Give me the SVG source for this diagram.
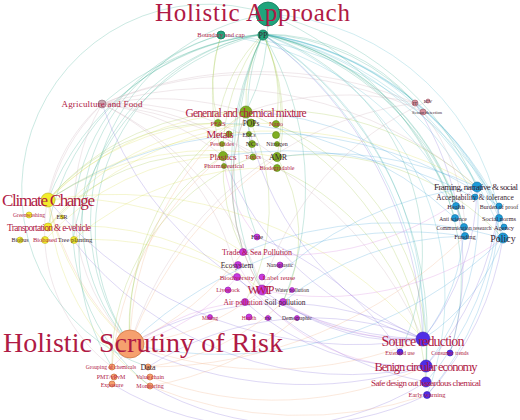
<svg xmlns="http://www.w3.org/2000/svg" width="520" height="420" viewBox="0 0 520 420">
<style>
text{font-family:"Liberation Serif","DejaVu Serif",serif;fill:#b01a45;text-anchor:middle}
.dk{fill:#3a2431}
.big{text-anchor:start}
path{fill:none;stroke-width:0.7;stroke-opacity:0.36}
.eg{stroke:#2fa88a}.et{stroke:#45b2c6}.eo{stroke:#9cc23a}.ey{stroke:#d6da48}.ea{stroke:#c4a2b0}
.eb{stroke:#3a9fd8}.ep{stroke:#7a62d6}.em{stroke:#d276dc}.er{stroke:#f0a878}
.ng{fill:#1fa47c;stroke:#137a5a;stroke-width:0.8}
.no{fill:#7fae1f;stroke:#5d8515;stroke-width:0.6}
.ny{fill:#f2ec2c;stroke:#b9b020;stroke-width:0.6}
.na{fill:#c9a6b0;stroke:#8a6a75;stroke-width:0.6}
.nb{fill:#1d9bd9;stroke:#1470a0;stroke-width:0.6}
.np{fill:#4f2ee6;stroke:#3519b0;stroke-width:0.6}
.nm{fill:#c93ae0;stroke:#9020a8;stroke-width:0.6}
.nr{fill:#f6a06e;stroke:#c8703d;stroke-width:0.7}
.nt{fill:#d4909c;stroke:#a05a68;stroke-width:0.6}
</style>
<g id="connectors">
<path class="et" d="M263 34 A280 280 0 0 1 477 187"/>
<path class="et" d="M263 34 A300 300 0 0 1 474 197"/>
<path class="eg" d="M263 34 A260 260 0 0 1 456 206"/>
<path class="et" d="M263 34 A320 320 0 0 1 499 206"/>
<path class="et" d="M263 34 A300 300 0 0 1 499 218"/>
<path class="eg" d="M263 34 A280 280 0 0 1 464 227"/>
<path class="et" d="M263 34 A300 300 0 0 1 504 227"/>
<path class="et" d="M263 34 A320 320 0 0 1 503 238"/>
<path class="eg" d="M263 34 A260 260 0 0 1 465 236"/>
<path class="et" d="M263 34 A340 340 0 0 1 423 339"/>
<path class="eg" d="M263 34 A360 360 0 0 1 426 366"/>
<path class="et" d="M263 34 A400 400 0 0 1 426 382"/>
<path class="eg" d="M263 34 A200 200 0 0 1 415 103"/>
<path class="eg" d="M263 34 A220 220 0 0 1 423 112"/>
<path class="eg" d="M268 14 A300 300 0 0 1 477 187"/>
<path class="et" d="M268 14 A250 250 0 0 1 503 238"/>
<path class="eg" d="M268 14 A330 330 0 0 1 455 218"/>
<path class="et" d="M221 35 A300 300 0 0 1 464 227"/>
<path class="et" d="M221 35 A350 350 0 0 1 499 206"/>
<path class="eg" d="M263 34 A250 250 0 0 1 450 353"/>
<path class="eg" d="M263 34 A230 230 0 0 1 400 352"/>
<path class="et" d="M263 34 A280 280 0 0 1 427 395"/>
<path class="eo" d="M263 34 A150 150 0 0 0 246 112"/>
<path class="eo" d="M263 34 A150 150 0 0 0 218 123"/>
<path class="eo" d="M263 34 A150 150 0 0 1 276 124"/>
<path class="eo" d="M263 34 A200 200 0 0 0 223 156"/>
<path class="eo" d="M263 34 A200 200 0 0 1 277 157"/>
<path class="eo" d="M263 34 A200 200 0 0 1 277 168"/>
<path class="eg" d="M263 34 A200 200 0 0 0 253 157"/>
<path class="eg" d="M263 34 A250 250 0 0 0 257 237"/>
<path class="eg" d="M263 34 A300 300 0 0 0 262 290"/>
<path class="eg" d="M263 34 A300 300 0 0 0 243 252"/>
<path class="eg" d="M263 34 A300 300 0 0 1 283 302"/>
<path class="eo" d="M221 35 A150 150 0 0 0 218 123"/>
<path class="eo" d="M221 35 A200 200 0 0 0 223 156"/>
<path class="eg" d="M268 14 A200 200 0 0 1 246 112"/>
<path class="eg" d="M263 34 A260 260 0 0 0 48 200"/>
<path class="eg" d="M263 34 A240 240 0 0 0 48 227"/>
<path class="eg" d="M263 34 A250 250 0 0 0 73 240"/>
<path class="eg" d="M263 34 A200 200 0 0 0 130 344"/>
<path class="eg" d="M263 34 A220 220 0 0 0 112 367"/>
<path class="eg" d="M268 14 A210 210 0 0 0 130 344"/>
<path class="eg" d="M221 35 A190 190 0 0 0 130 344"/>
<path class="eg" d="M221 35 A200 200 0 0 0 150 386"/>
<path class="eg" d="M263 34 A300 300 0 0 0 102 104"/>
<path class="eg" d="M268 14 A185 185 0 0 0 148 367"/>
<path class="eo" d="M246 112 A250 250 0 0 0 48 200"/>
<path class="eo" d="M218 123 A220 220 0 0 0 48 200"/>
<path class="eo" d="M223 156 A200 200 0 0 0 48 227"/>
<path class="eo" d="M246 112 A260 260 0 0 0 130 344"/>
<path class="eo" d="M223 156 A200 200 0 0 0 130 344"/>
<path class="eo" d="M246 112 A300 300 0 0 1 477 187"/>
<path class="eo" d="M277 157 A260 260 0 0 1 503 238"/>
<path class="eo" d="M246 112 A300 300 0 0 1 423 339"/>
<path class="eo" d="M276 124 A250 250 0 0 1 426 366"/>
<path class="eo" d="M246 112 A200 200 0 0 0 262 290"/>
<path class="eo" d="M223 156 A200 200 0 0 0 243 252"/>
<path class="eo" d="M277 157 A150 150 0 0 1 283 302"/>
<path class="eo" d="M251 123 A200 200 0 0 1 245 302"/>
<path class="eo" d="M253 157 A220 220 0 0 0 112 367"/>
<path class="eo" d="M277 168 A250 250 0 0 1 426 382"/>
<path class="ey" d="M48 200 A300 300 0 0 1 246 112"/>
<path class="ey" d="M48 200 A260 260 0 0 0 130 344"/>
<path class="ey" d="M48 200 A300 300 0 0 1 243 252"/>
<path class="ey" d="M48 227 A300 300 0 0 1 262 290"/>
<path class="ey" d="M48 200 A400 400 0 0 1 423 339"/>
<path class="ey" d="M73 240 A300 300 0 0 1 237 277"/>
<path class="ey" d="M48 200 A250 250 0 0 1 218 123"/>
<path class="ey" d="M45 240 A250 250 0 0 1 223 156"/>
<path class="ey" d="M48 227 A260 260 0 0 1 276 124"/>
<path class="ey" d="M48 200 A300 300 0 0 1 277 157"/>
<path class="ey" d="M48 227 A350 350 0 0 1 251 123"/>
<path class="ey" d="M73 240 A300 300 0 0 1 277 168"/>
<path class="ey" d="M48 200 A250 250 0 0 0 150 386"/>
<path class="ey" d="M48 200 A400 400 0 0 1 477 187"/>
<path class="ea" d="M102 104 A300 300 0 0 1 246 112"/>
<path class="ea" d="M102 104 A250 250 0 0 1 223 156"/>
<path class="ea" d="M102 104 A260 260 0 0 1 277 157"/>
<path class="ea" d="M102 104 A400 400 0 0 1 415 103"/>
<path class="ea" d="M102 104 A400 400 0 0 1 423 112"/>
<path class="ea" d="M102 104 A300 300 0 0 1 262 290"/>
<path class="ea" d="M102 104 A250 250 0 0 1 237 277"/>
<path class="ea" d="M102 104 A200 200 0 0 0 130 344"/>
<path class="ea" d="M102 104 A170 170 0 0 0 112 367"/>
<path class="ea" d="M102 104 A200 200 0 0 0 48 200"/>
<path class="ea" d="M102 104 A400 400 0 0 1 423 339"/>
<path class="ea" d="M102 104 A400 400 0 0 1 477 187"/>
<path class="ea" d="M102 104 A250 250 0 0 1 253 157"/>
<path class="eb" d="M503 238 A200 200 0 0 1 423 339"/>
<path class="eb" d="M477 187 A250 250 0 0 1 426 366"/>
<path class="eb" d="M499 206 A300 300 0 0 1 426 382"/>
<path class="eb" d="M464 227 A200 200 0 0 1 423 339"/>
<path class="eb" d="M456 206 A300 300 0 0 0 246 112"/>
<path class="eb" d="M477 187 A350 350 0 0 0 262 290"/>
<path class="eb" d="M503 238 A400 400 0 0 0 243 252"/>
<path class="eb" d="M465 236 A400 400 0 0 0 130 344"/>
<path class="eb" d="M474 197 A400 400 0 0 0 223 156"/>
<path class="eb" d="M503 238 A400 400 0 0 1 130 344"/>
<path class="eb" d="M455 218 A350 350 0 0 0 218 123"/>
<path class="eb" d="M499 218 A300 300 0 0 1 427 395"/>
<path class="eb" d="M504 227 A260 260 0 0 0 415 103"/>
<path class="eb" d="M477 187 A350 350 0 0 0 277 157"/>
<path class="eb" d="M465 236 A300 300 0 0 0 283 302"/>
<path class="eb" d="M499 206 A400 400 0 0 0 48 200"/>
<path class="ep" d="M423 339 A400 400 0 0 0 263 34"/>
<path class="ep" d="M423 339 A300 300 0 0 1 246 112"/>
<path class="ep" d="M423 339 A300 300 0 0 1 223 156"/>
<path class="ep" d="M423 339 A400 400 0 0 1 48 200"/>
<path class="ep" d="M423 339 A300 300 0 0 0 130 344"/>
<path class="ep" d="M426 366 A400 400 0 0 1 130 344"/>
<path class="ep" d="M427 395 A300 300 0 0 1 150 386"/>
<path class="ep" d="M426 382 A300 300 0 0 1 112 384"/>
<path class="ep" d="M423 339 A250 250 0 0 1 262 290"/>
<path class="ep" d="M423 339 A200 200 0 0 1 283 302"/>
<path class="ep" d="M426 366 A250 250 0 0 1 245 302"/>
<path class="ep" d="M423 339 A350 350 0 0 1 102 104"/>
<path class="ep" d="M450 353 A300 300 0 0 0 415 103"/>
<path class="ep" d="M400 352 A300 300 0 0 0 257 237"/>
<path class="ep" d="M426 366 A300 300 0 0 0 499 206"/>
<path class="ep" d="M423 339 A250 250 0 0 0 477 187"/>
<path class="ep" d="M427 395 A300 300 0 0 0 503 238"/>
<path class="ep" d="M426 382 A350 350 0 0 1 237 277"/>
<path class="ep" d="M423 339 A300 300 0 0 0 148 367"/>
<path class="ep" d="M426 366 A350 350 0 0 1 73 240"/>
<path class="er" d="M130 344 A300 300 0 0 1 246 112"/>
<path class="er" d="M130 344 A250 250 0 0 0 262 290"/>
<path class="er" d="M130 344 A300 300 0 0 0 243 252"/>
<path class="er" d="M112 367 A300 300 0 0 1 223 156"/>
<path class="er" d="M148 367 A250 250 0 0 0 283 302"/>
<path class="er" d="M150 386 A300 300 0 0 0 297 318"/>
<path class="er" d="M130 344 A400 400 0 0 0 423 339"/>
<path class="er" d="M150 377 A350 350 0 0 0 426 366"/>
<path class="er" d="M130 344 A300 300 0 0 1 48 200"/>
<path class="er" d="M150 386 A400 400 0 0 0 427 395"/>
<path class="er" d="M130 344 A400 400 0 0 1 277 157"/>
<path class="er" d="M148 367 A450 450 0 0 0 465 236"/>
<path class="em" d="M262 290 A200 200 0 0 1 246 112"/>
<path class="em" d="M243 252 A300 300 0 0 0 477 187"/>
<path class="em" d="M262 290 A300 300 0 0 0 503 238"/>
<path class="em" d="M237 277 A200 200 0 0 1 130 344"/>
<path class="em" d="M245 302 A200 200 0 0 0 112 367"/>
<path class="em" d="M257 237 A150 150 0 0 1 223 156"/>
<path class="em" d="M238 265 A200 200 0 0 0 426 366"/>
<path class="em" d="M283 302 A250 250 0 0 0 423 339"/>
<path class="ea" d="M415 103 A300 300 0 0 0 246 112"/>
<path class="ea" d="M423 112 A200 200 0 0 1 465 236"/>
<path class="ea" d="M428 101 A300 300 0 0 0 262 290"/>
<path class="ea" d="M415 103 A350 350 0 0 0 130 344"/>
</g>
<g id="n-holistic-approach"><circle class="ng" cx="268" cy="14" r="12"/><text class="big" x="155" y="21" font-size="25" textLength="195">Holistic Approach</text></g>
<g id="n-boundary"><circle class="ng" cx="221" cy="35" r="4"/><text x="221" y="37" font-size="6.5">Boundary and cap</text></g>
<g id="n-pp"><circle class="ng" cx="263" cy="35" r="5"/><text class="dk" x="263" y="38" font-size="8">PP</text></g>
<g id="n-agri"><circle class="na" cx="102" cy="104" r="4"/><text x="102" y="107" font-size="9" textLength="81">Agriculture and Food</text></g>
<g id="n-gcm"><circle class="no" cx="246" cy="112" r="6"/><text x="246" y="117" font-size="11.5" textLength="121">Genenral and chemical mixture</text></g>
<g id="n-pfas"><circle class="no" cx="218" cy="123" r="3.5"/><text x="218" y="126" font-size="6.5">PFAS</text></g>
<g id="n-pops"><circle class="no" cx="251" cy="123" r="4"/><text class="dk" x="251" y="126" font-size="7.5">POPs</text></g>
<g id="n-nano"><circle class="no" cx="276" cy="124" r="3.5"/><text x="276" y="126" font-size="6.5">Nano</text></g>
<g id="n-metals"><circle class="no" cx="229" cy="134" r="3"/><text x="220" y="138" font-size="11" textLength="27">Metals</text></g>
<g id="n-edcs"><circle class="no" cx="249" cy="134" r="2.5"/><text class="dk" x="249" y="137" font-size="5.5">EDCs</text></g>
<g id="n-x1"><circle class="no" cx="276" cy="135" r="3.5"/></g>
<g id="n-pest"><circle class="no" cx="222" cy="144" r="2.5"/><text x="222" y="146" font-size="6">Pesticides</text></g>
<g id="n-ncs"><circle class="no" cx="252" cy="144" r="3.5"/><text class="dk" x="252" y="146" font-size="7">NCs</text></g>
<g id="n-nitro"><circle class="no" cx="277" cy="144" r="2.5"/><text class="dk" x="277" y="146" font-size="6">Nitrogen</text></g>
<g id="n-plastics"><circle class="no" cx="223" cy="156" r="4.5"/><text x="223" y="160" font-size="9" textLength="27">Plastics</text></g>
<g id="n-toxics"><circle class="no" cx="253" cy="157" r="3"/><text x="253" y="159" font-size="6">Toxics</text></g>
<g id="n-amr"><circle class="no" cx="277" cy="157" r="4.5"/><text class="dk" x="278" y="160" font-size="8">AMR</text></g>
<g id="n-pharma"><circle class="no" cx="224" cy="166" r="2.5"/><text x="224" y="168" font-size="6.5">Pharmaceutical</text></g>
<g id="n-biodeg"><circle class="no" cx="277" cy="168" r="3.5"/><text x="277" y="170" font-size="6">Biodegradable</text></g>
<g id="n-climate"><circle class="ny" cx="48" cy="200" r="7"/><text class="big" x="2" y="206" font-size="17" textLength="93">Climate Change</text></g>
<g id="n-green"><circle class="ny" cx="29" cy="215" r="3"/><text x="29" y="217" font-size="5.5">Greenwashing</text></g>
<g id="n-esr"><circle class="ny" cx="62" cy="217" r="2"/><text class="dk" x="62" y="219" font-size="6">ESR</text></g>
<g id="n-transport"><circle class="ny" cx="48" cy="227" r="4"/><text x="49" y="231" font-size="9.5" textLength="84">Transportation &amp; e-vehicle</text></g>
<g id="n-biobus"><circle class="ny" cx="20" cy="240" r="3"/><text class="dk" x="20" y="242" font-size="6">Biobus</text></g>
<g id="n-biobased"><circle class="ny" cx="45" cy="240" r="3.5"/><text x="45" y="242" font-size="6.5">Biobased</text></g>
<g id="n-tree"><circle class="ny" cx="74" cy="240" r="3.5"/><text class="dk" x="75" y="242" font-size="6.5">Tree planting</text></g>
<g id="n-framing"><circle class="nb" cx="477" cy="187" r="5"/><text class="dk" x="476" y="190" font-size="9" textLength="84">Framing, narrative &amp; social</text></g>
<g id="n-accept"><circle class="nb" cx="475" cy="197" r="3"/><text class="dk" x="475" y="200" font-size="7.5">Acceptability &amp; tolerance</text></g>
<g id="n-health"><circle class="nb" cx="456" cy="206" r="3.5"/><text class="dk" x="456" y="209" font-size="6.5">Health</text></g>
<g id="n-burden"><circle class="nb" cx="499" cy="206" r="3"/><text class="dk" x="499" y="209" font-size="6">Burden of proof</text></g>
<g id="n-anti"><circle class="nb" cx="455" cy="218" r="3.5"/><text class="dk" x="453" y="221" font-size="5.5">Anti science</text></g>
<g id="n-social"><circle class="nb" cx="499" cy="218" r="3.5"/><text class="dk" x="499" y="221" font-size="6.5">Social norms</text></g>
<g id="n-comm"><circle class="nb" cx="464" cy="227" r="3.5"/><text class="dk" x="464" y="230" font-size="5.5">Communication research</text></g>
<g id="n-agency"><circle class="nb" cx="504" cy="227" r="3"/><text class="dk" x="504" y="230" font-size="6.5">Agency</text></g>
<g id="n-funding"><circle class="nb" cx="465" cy="236" r="3.5"/><text class="dk" x="465" y="239" font-size="6.5">Funding</text></g>
<g id="n-policy"><circle class="nb" cx="503" cy="238" r="5"/><text class="dk" x="503" y="242" font-size="10">Policy</text></g>
<g id="n-it"><circle class="nt" cx="415" cy="103" r="3"/><text class="dk" x="415" y="105" font-size="5">IT</text></g>
<g id="n-icv"><circle class="nt" cx="428" cy="101" r="2"/><text class="dk" x="428" y="103" font-size="5">ICV</text></g>
<g id="n-sensor"><circle class="nt" cx="423" cy="112" r="3"/><text class="dk" x="427" y="114" font-size="4.5">Sensor detection</text></g>
<g id="n-fate"><circle class="nm" cx="257" cy="237" r="3"/><text class="dk" x="257" y="239" font-size="7">Fate</text></g>
<g id="n-trade"><circle class="nm" cx="243" cy="252" r="3.5"/><text x="257" y="255" font-size="8" textLength="70">Trade &amp; Sea Pollution</text></g>
<g id="n-eco"><circle class="nm" cx="238" cy="265" r="3.5"/><text class="dk" x="237" y="268" font-size="7.5">Ecosystem</text></g>
<g id="n-nanop"><circle class="nm" cx="280" cy="265" r="3"/><text class="dk" x="280" y="267" font-size="5.5">Nanoplastic</text></g>
<g id="n-biodiv"><circle class="nm" cx="237" cy="277" r="3.5"/><text x="237" y="280" font-size="7">Biodiversity</text></g>
<g id="n-label"><circle class="nm" cx="262" cy="277" r="3"/><text x="279" y="280" font-size="7">Label reuse</text></g>
<g id="n-live"><circle class="nm" cx="228" cy="290" r="3"/><text x="228" y="292" font-size="6">Livestock</text></g>
<g id="n-wwtp"><circle class="nm" cx="262" cy="290" r="5"/><text x="261" y="294" font-size="12" textLength="27">WWTP</text></g>
<g id="n-water"><circle class="nm" cx="292" cy="290" r="2.5"/><text class="dk" x="292" y="292" font-size="5.5">Water pollution</text></g>
<g id="n-air"><circle class="nm" cx="245" cy="302" r="3.5"/><text x="243" y="305" font-size="7.5">Air pollution</text></g>
<g id="n-soil"><circle class="nm" cx="283" cy="302" r="3.5"/><text class="dk" x="285" y="305" font-size="7.5">Soil pollution</text></g>
<g id="n-mining"><circle class="nm" cx="210" cy="317" r="2.5"/><text x="210" y="320" font-size="5.5">Mining</text></g>
<g id="n-health2"><circle class="nm" cx="249" cy="317" r="3"/><text x="249" y="320" font-size="5.5">Health</text></g>
<g id="n-pm"><circle class="nm" cx="268" cy="318" r="2.5"/><text class="dk" x="268" y="320" font-size="5">PM</text></g>
<g id="n-demo"><circle class="nm" cx="297" cy="318" r="2.5"/><text class="dk" x="297" y="320" font-size="5.5">Demographic</text></g>
<g id="n-hsr"><circle class="nr" cx="130" cy="344" r="14"/><text class="big" x="3" y="352" font-size="28" textLength="280">Holistic Scrutiny of Risk</text></g>
<g id="n-group"><circle class="nr" cx="112" cy="367" r="3"/><text x="111" y="369" font-size="5.5">Grouping of chemicals</text></g>
<g id="n-data"><circle class="nr" cx="148" cy="367" r="3"/><text class="dk" x="148" y="370" font-size="8">Data</text></g>
<g id="n-pmt"><circle class="nr" cx="114" cy="377" r="3"/><text x="111" y="379" font-size="6">PMT/vPvM</text></g>
<g id="n-value"><circle class="nr" cx="150" cy="377" r="3"/><text x="150" y="379" font-size="6">Value chain</text></g>
<g id="n-exposure"><circle class="nr" cx="112" cy="384" r="3"/><text x="112" y="387" font-size="6">Exposure</text></g>
<g id="n-monitor"><circle class="nr" cx="150" cy="386" r="3"/><text x="150" y="388" font-size="6">Monitoring</text></g>
<g id="n-source"><circle class="np" cx="423" cy="339" r="7"/><text x="423" y="346" font-size="14" textLength="83">Source reduction</text></g>
<g id="n-extended"><circle class="np" cx="400" cy="352" r="3"/><text x="400" y="355" font-size="5.5">Extended use</text></g>
<g id="n-consumer"><circle class="np" cx="450" cy="353" r="3"/><text x="450" y="355" font-size="5.5">Consumer trends</text></g>
<g id="n-benign"><circle class="np" cx="426" cy="366" r="6"/><text x="426" y="371" font-size="12.5" textLength="103">Benign circular economy</text></g>
<g id="n-safe"><circle class="np" cx="426" cy="382" r="5"/><text x="426" y="386" font-size="9" textLength="110">Safe design out hazardous chemical</text></g>
<g id="n-early"><circle class="np" cx="427" cy="395" r="3.5"/><text x="427" y="397" font-size="6.5">Early warning</text></g>
</svg>
